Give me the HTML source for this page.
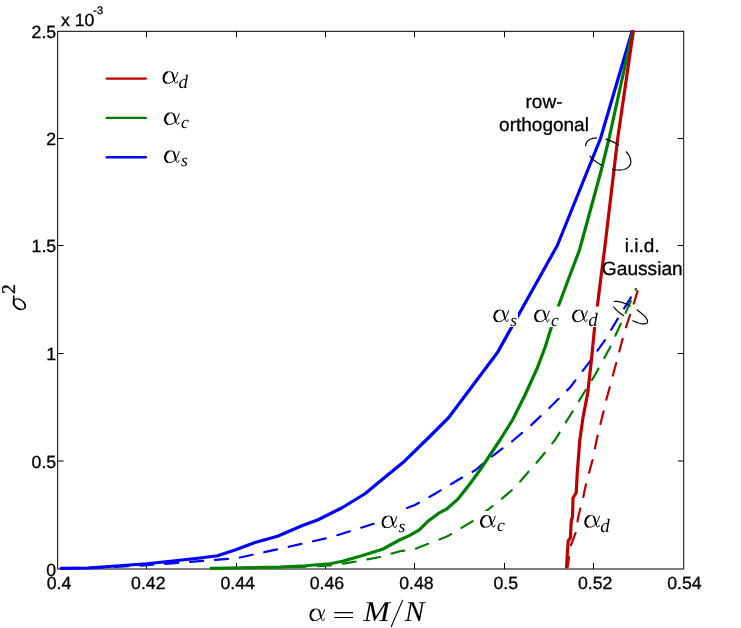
<!DOCTYPE html><html><head><meta charset="utf-8"><style>
html,body{margin:0;padding:0;background:#fff}svg{display:block;will-change:transform}text{text-rendering:geometricPrecision}
.t{font-family:"Liberation Sans",sans-serif;fill:#000;stroke:#000;stroke-width:.3px}
.m{font-family:"Liberation Serif",serif;font-style:italic;fill:#000}
.r{font-family:"Liberation Serif",serif;fill:#000}
</style></head><body>
<svg width="741" height="628" viewBox="0 0 741 628">
<rect width="741" height="628" fill="#fff"/>
<rect x="57.65" y="31.3" width="626.0500000000001" height="537.7" fill="none" stroke="#000" stroke-width="1"/>
<path d="M146.5,569.0 v-6 M146.5,31.3 v6" stroke="#000" stroke-width="1"/>
<path d="M236.5,569.0 v-6 M236.5,31.3 v6" stroke="#000" stroke-width="1"/>
<path d="M325.5,569.0 v-6 M325.5,31.3 v6" stroke="#000" stroke-width="1"/>
<path d="M414.5,569.0 v-6 M414.5,31.3 v6" stroke="#000" stroke-width="1"/>
<path d="M504.5,569.0 v-6 M504.5,31.3 v6" stroke="#000" stroke-width="1"/>
<path d="M593.5,569.0 v-6 M593.5,31.3 v6" stroke="#000" stroke-width="1"/>
<path d="M57.65,461.0 h6 M683.7,461.0 h-6" stroke="#000" stroke-width="1"/>
<path d="M57.65,353.5 h6 M683.7,353.5 h-6" stroke="#000" stroke-width="1"/>
<path d="M57.65,245.5 h6 M683.7,245.5 h-6" stroke="#000" stroke-width="1"/>
<path d="M57.65,138.5 h6 M683.7,138.5 h-6" stroke="#000" stroke-width="1"/>
<defs><clipPath id="c"><rect x="57.15" y="30.1" width="627.0500000000001" height="540.1"/></clipPath></defs>
<g clip-path="url(#c)" fill="none" stroke-linejoin="round">
<path d="M631.50,296.50 L620.00,315.00 L605.00,340.00 L590.00,361.25 L570.00,387.50 L550.00,407.30 L530.00,426.20 L512.50,441.00 L487.50,459.75 L475.00,470.50 L460.00,478.75 L435.00,493.75 L415.00,505.00 L405.00,508.75 L373.75,523.75 L330.00,537.50 L280.00,548.75 L237.50,558.00 L230.00,558.75 L180.00,562.70 L140.00,565.75 L100.00,567.50 L58.00,568.30" stroke="#0000ff" stroke-width="2.2" stroke-linecap="round" stroke-dasharray="13 12" stroke-dashoffset="-1"/>
<path d="M636.00,289.00 L622.50,320.00 L610.00,347.50 L595.00,375.00 L578.75,401.25 L565.00,423.75 L555.00,440.00 L540.00,458.75 L530.00,470.00 L515.00,487.50 L497.50,502.50 L472.50,521.25 L447.50,536.25 L415.00,549.00 L400.00,551.25 L380.00,557.00 L355.00,561.75 L330.00,565.50 L300.00,567.00 L210.00,568.30" stroke="#008000" stroke-width="2.2" stroke-linecap="round" stroke-dasharray="13 12" stroke-dashoffset="12"/>
<path d="M637.80,290.50 L632.50,307.50 L625.00,330.00 L615.00,367.50 L606.25,400.00 L596.60,440.00 L592.70,459.40 L589.00,473.00 L586.00,484.00 L583.30,497.00 L580.50,507.70 L578.00,518.00 L576.20,531.40 L571.00,545.00 L567.60,567.00" stroke="#c00000" stroke-width="2.2" stroke-linecap="round" stroke-dasharray="13 12" stroke-dashoffset="-0.7"/>
<path d="M61.00,568.30 L87.50,568.00 L112.50,566.25 L146.75,563.75 L175.00,560.75 L200.00,558.00 L217.50,555.75 L235.00,550.00 L255.00,542.50 L277.50,536.25 L302.50,525.50 L317.50,520.00 L342.50,507.50 L365.00,493.75 L380.00,481.25 L404.50,461.20 L430.00,436.25 L448.75,417.50 L467.50,392.50 L497.50,352.50 L557.30,245.50 L600.50,138.50 L632.30,30.50" stroke="#0000ff" stroke-width="3.2" stroke-linecap="round"/>
<path d="M210.00,568.30 L230.00,568.00 L280.00,567.00 L305.00,565.75 L330.00,563.75 L342.50,561.25 L360.00,556.25 L382.50,549.25 L399.50,540.00 L409.30,535.60 L419.00,530.20 L427.60,521.60 L438.40,513.40 L447.00,508.80 L452.50,503.90 L458.00,499.00 L470.00,483.75 L480.00,470.00 L487.50,458.75 L500.00,440.00 L512.50,420.00 L525.00,395.00 L537.50,367.50 L545.00,347.50 L551.25,327.50 L558.75,305.00 L570.00,275.00 L579.50,250.00 L601.30,170.00 L609.00,138.50 L632.80,30.50" stroke="#008000" stroke-width="3.2"/>
<path d="M566.50,568.30 L567.20,556.00 L568.20,541.00 L570.40,537.80 L571.20,521.70 L572.50,516.30 L573.00,498.00 L576.20,492.70 L577.30,472.30 L579.80,440.00 L583.00,417.50 L587.80,392.60 L591.60,358.20 L594.60,327.50 L597.50,305.00 L601.25,275.00 L604.50,250.00 L617.70,138.50 L633.40,30.50" stroke="#c00000" stroke-width="3.2"/>
</g>
<text class="t" x="59.0" y="589" font-size="17.7" text-anchor="middle">0.4</text>
<text class="t" x="148.3" y="589" font-size="17.7" text-anchor="middle">0.42</text>
<text class="t" x="237.7" y="589" font-size="17.7" text-anchor="middle">0.44</text>
<text class="t" x="327.0" y="589" font-size="17.7" text-anchor="middle">0.46</text>
<text class="t" x="416.4" y="589" font-size="17.7" text-anchor="middle">0.48</text>
<text class="t" x="505.8" y="589" font-size="17.7" text-anchor="middle">0.5</text>
<text class="t" x="595.1" y="589" font-size="17.7" text-anchor="middle">0.52</text>
<text class="t" x="684.4" y="589" font-size="17.7" text-anchor="middle">0.54</text>
<text class="t" x="56.2" y="575.8" font-size="17.7" text-anchor="end">0</text>
<text class="t" x="56.2" y="467.8" font-size="17.7" text-anchor="end">0.5</text>
<text class="t" x="56.2" y="360.3" font-size="17.7" text-anchor="end">1</text>
<text class="t" x="56.2" y="252.3" font-size="17.7" text-anchor="end">1.5</text>
<text class="t" x="56.2" y="145.3" font-size="17.7" text-anchor="end">2</text>
<text class="t" x="56.2" y="38.1" font-size="17.7" text-anchor="end">2.5</text>
<text class="t" x="61" y="25.5" font-size="17.7">x 10</text>
<text class="t" x="93.3" y="14.3" font-size="11">-3</text>
<path d="M106.8,78.6 H145.8" stroke="#c00000" stroke-width="2.4" stroke-linecap="round"/>
<path d="M106.8,117.9 H145.8" stroke="#008000" stroke-width="2.4" stroke-linecap="round"/>
<path d="M106.8,157.3 H145.8" stroke="#0000ff" stroke-width="2.4" stroke-linecap="round"/>
<g transform="translate(162.5,83.89999999999999) scale(0.98)" fill="none" stroke="#000" stroke-linecap="round"><path d="M15.5,-11.8 C14.5,-8 11.5,-0.6 5.5,-0.6 C2.5,-0.6 0.9,-2.8 0.9,-5.6 C0.9,-9.5 3.8,-12.5 7.3,-12.5 C10.5,-12.5 11.2,-8.5 12,-4 C12.4,-1.8 13,-0.7 13.8,-0.7 C14.6,-0.7 15.1,-1.6 15.3,-2.6" stroke-width="1.0"/><path d="M3.4,-1.3 C1.7,-2.2 1.1,-3.8 1.1,-5.6 C1.1,-8 2.3,-10.5 4.4,-11.8" stroke-width="2.0"/><path d="M9.8,-11.3 C10.9,-9.5 11.3,-6.5 11.9,-3.6" stroke-width="1.7"/></g><text class="m" x="178.6" y="87.69999999999999" font-size="19">d</text>
<g transform="translate(164.0,125.1) scale(0.98)" fill="none" stroke="#000" stroke-linecap="round"><path d="M15.5,-11.8 C14.5,-8 11.5,-0.6 5.5,-0.6 C2.5,-0.6 0.9,-2.8 0.9,-5.6 C0.9,-9.5 3.8,-12.5 7.3,-12.5 C10.5,-12.5 11.2,-8.5 12,-4 C12.4,-1.8 13,-0.7 13.8,-0.7 C14.6,-0.7 15.1,-1.6 15.3,-2.6" stroke-width="1.0"/><path d="M3.4,-1.3 C1.7,-2.2 1.1,-3.8 1.1,-5.6 C1.1,-8 2.3,-10.5 4.4,-11.8" stroke-width="2.0"/><path d="M9.8,-11.3 C10.9,-9.5 11.3,-6.5 11.9,-3.6" stroke-width="1.7"/></g><text class="m" x="181.0" y="128.4" font-size="17.6">c</text>
<g transform="translate(164.0,163.10000000000002) scale(0.98)" fill="none" stroke="#000" stroke-linecap="round"><path d="M15.5,-11.8 C14.5,-8 11.5,-0.6 5.5,-0.6 C2.5,-0.6 0.9,-2.8 0.9,-5.6 C0.9,-9.5 3.8,-12.5 7.3,-12.5 C10.5,-12.5 11.2,-8.5 12,-4 C12.4,-1.8 13,-0.7 13.8,-0.7 C14.6,-0.7 15.1,-1.6 15.3,-2.6" stroke-width="1.0"/><path d="M3.4,-1.3 C1.7,-2.2 1.1,-3.8 1.1,-5.6 C1.1,-8 2.3,-10.5 4.4,-11.8" stroke-width="2.0"/><path d="M9.8,-11.3 C10.9,-9.5 11.3,-6.5 11.9,-3.6" stroke-width="1.7"/></g><text class="m" x="181.0" y="166.4" font-size="17.6">s</text>
<rect x="491" y="306.5" width="27" height="20.5" fill="#fff"/><g transform="translate(493.3,322.3) scale(0.98)" fill="none" stroke="#000" stroke-linecap="round"><path d="M15.5,-11.8 C14.5,-8 11.5,-0.6 5.5,-0.6 C2.5,-0.6 0.9,-2.8 0.9,-5.6 C0.9,-9.5 3.8,-12.5 7.3,-12.5 C10.5,-12.5 11.2,-8.5 12,-4 C12.4,-1.8 13,-0.7 13.8,-0.7 C14.6,-0.7 15.1,-1.6 15.3,-2.6" stroke-width="1.0"/><path d="M3.4,-1.3 C1.7,-2.2 1.1,-3.8 1.1,-5.6 C1.1,-8 2.3,-10.5 4.4,-11.8" stroke-width="2.0"/><path d="M9.8,-11.3 C10.9,-9.5 11.3,-6.5 11.9,-3.6" stroke-width="1.7"/></g><text class="m" x="510.3" y="325.6" font-size="17.6">s</text>
<rect x="532" y="306.5" width="28" height="20.5" fill="#fff"/><g transform="translate(534.1,322.3) scale(0.98)" fill="none" stroke="#000" stroke-linecap="round"><path d="M15.5,-11.8 C14.5,-8 11.5,-0.6 5.5,-0.6 C2.5,-0.6 0.9,-2.8 0.9,-5.6 C0.9,-9.5 3.8,-12.5 7.3,-12.5 C10.5,-12.5 11.2,-8.5 12,-4 C12.4,-1.8 13,-0.7 13.8,-0.7 C14.6,-0.7 15.1,-1.6 15.3,-2.6" stroke-width="1.0"/><path d="M3.4,-1.3 C1.7,-2.2 1.1,-3.8 1.1,-5.6 C1.1,-8 2.3,-10.5 4.4,-11.8" stroke-width="2.0"/><path d="M9.8,-11.3 C10.9,-9.5 11.3,-6.5 11.9,-3.6" stroke-width="1.7"/></g><text class="m" x="551.1" y="325.6" font-size="17.6">c</text>
<rect x="570" y="306.5" width="29.5" height="20.5" fill="#fff"/><g transform="translate(572.1,322.3) scale(0.98)" fill="none" stroke="#000" stroke-linecap="round"><path d="M15.5,-11.8 C14.5,-8 11.5,-0.6 5.5,-0.6 C2.5,-0.6 0.9,-2.8 0.9,-5.6 C0.9,-9.5 3.8,-12.5 7.3,-12.5 C10.5,-12.5 11.2,-8.5 12,-4 C12.4,-1.8 13,-0.7 13.8,-0.7 C14.6,-0.7 15.1,-1.6 15.3,-2.6" stroke-width="1.0"/><path d="M3.4,-1.3 C1.7,-2.2 1.1,-3.8 1.1,-5.6 C1.1,-8 2.3,-10.5 4.4,-11.8" stroke-width="2.0"/><path d="M9.8,-11.3 C10.9,-9.5 11.3,-6.5 11.9,-3.6" stroke-width="1.7"/></g><text class="m" x="588.2" y="326.1" font-size="19">d</text>
<rect x="379" y="510.5" width="28" height="22.5" fill="#fff"/><g transform="translate(381.5,528.3) scale(0.98)" fill="none" stroke="#000" stroke-linecap="round"><path d="M15.5,-11.8 C14.5,-8 11.5,-0.6 5.5,-0.6 C2.5,-0.6 0.9,-2.8 0.9,-5.6 C0.9,-9.5 3.8,-12.5 7.3,-12.5 C10.5,-12.5 11.2,-8.5 12,-4 C12.4,-1.8 13,-0.7 13.8,-0.7 C14.6,-0.7 15.1,-1.6 15.3,-2.6" stroke-width="1.0"/><path d="M3.4,-1.3 C1.7,-2.2 1.1,-3.8 1.1,-5.6 C1.1,-8 2.3,-10.5 4.4,-11.8" stroke-width="2.0"/><path d="M9.8,-11.3 C10.9,-9.5 11.3,-6.5 11.9,-3.6" stroke-width="1.7"/></g><text class="m" x="398.5" y="531.6" font-size="17.6">s</text>
<rect x="478" y="511" width="28" height="22" fill="#fff"/><g transform="translate(480.0,527.8) scale(0.98)" fill="none" stroke="#000" stroke-linecap="round"><path d="M15.5,-11.8 C14.5,-8 11.5,-0.6 5.5,-0.6 C2.5,-0.6 0.9,-2.8 0.9,-5.6 C0.9,-9.5 3.8,-12.5 7.3,-12.5 C10.5,-12.5 11.2,-8.5 12,-4 C12.4,-1.8 13,-0.7 13.8,-0.7 C14.6,-0.7 15.1,-1.6 15.3,-2.6" stroke-width="1.0"/><path d="M3.4,-1.3 C1.7,-2.2 1.1,-3.8 1.1,-5.6 C1.1,-8 2.3,-10.5 4.4,-11.8" stroke-width="2.0"/><path d="M9.8,-11.3 C10.9,-9.5 11.3,-6.5 11.9,-3.6" stroke-width="1.7"/></g><text class="m" x="497.0" y="531.1" font-size="17.6">c</text>
<rect x="583" y="512" width="29" height="21" fill="#fff"/><g transform="translate(584.25,527.8) scale(0.98)" fill="none" stroke="#000" stroke-linecap="round"><path d="M15.5,-11.8 C14.5,-8 11.5,-0.6 5.5,-0.6 C2.5,-0.6 0.9,-2.8 0.9,-5.6 C0.9,-9.5 3.8,-12.5 7.3,-12.5 C10.5,-12.5 11.2,-8.5 12,-4 C12.4,-1.8 13,-0.7 13.8,-0.7 C14.6,-0.7 15.1,-1.6 15.3,-2.6" stroke-width="1.0"/><path d="M3.4,-1.3 C1.7,-2.2 1.1,-3.8 1.1,-5.6 C1.1,-8 2.3,-10.5 4.4,-11.8" stroke-width="2.0"/><path d="M9.8,-11.3 C10.9,-9.5 11.3,-6.5 11.9,-3.6" stroke-width="1.7"/></g><text class="m" x="600.35" y="531.6" font-size="19">d</text>
<text class="t" x="544" y="107.6" font-size="19" text-anchor="middle">row-</text>
<text class="t" x="544" y="130.5" font-size="19" text-anchor="middle">orthogonal</text>
<text class="t" x="642.3" y="251.6" font-size="19" text-anchor="middle">i.i.d.</text>
<text class="t" x="642.3" y="275.2" font-size="19.15" text-anchor="middle">Gaussian</text>
<g fill="none" stroke="#000" stroke-width="1.2">
<path d="M602.30,165.58 L601.67,165.25 L601.04,164.92 L600.42,164.57 L599.80,164.21 L599.20,163.85 L598.60,163.48 L598.01,163.09 L597.42,162.71 L596.85,162.31 L596.29,161.91 L595.73,161.50 L595.19,161.08 L594.66,160.66 L594.13,160.23 L593.63,159.80 L593.13,159.36 L592.64,158.92 L592.17,158.47 L591.72,158.02 L591.27,157.57 L590.84,157.11 L590.43,156.65 L590.03,156.19 L589.65,155.72"/>
<path d="M585.59,146.25 L585.61,145.65 L585.68,145.06 L585.79,144.48 L585.94,143.93 L586.13,143.39 L586.37,142.88 L586.65,142.38 L586.97,141.91 L587.33,141.46 L587.73,141.03 L588.17,140.63 L588.64,140.26 L589.16,139.91 L589.71,139.59 L590.29,139.29 L590.91,139.02 L591.56,138.79 L592.25,138.58 L592.96,138.40 L593.70,138.24 L594.47,138.12 L595.27,138.03 L596.09,137.97 L596.94,137.94"/>
<path d="M605.49,139.09 L606.07,139.25 L606.64,139.42 L607.22,139.59 L607.79,139.78 L608.37,139.97 L608.94,140.18 L609.52,140.39 L610.09,140.61 L610.66,140.84 L611.23,141.08 L611.80,141.32 L612.37,141.58 L612.94,141.84 L613.50,142.11 L614.05,142.39 L614.61,142.68 L615.16,142.97 L615.70,143.27 L616.24,143.58 L616.78,143.90 L617.31,144.22 L617.83,144.54 L618.35,144.88 L618.86,145.22"/>
<path d="M626.05,151.44 L627.17,152.81 L628.16,154.19 L629.00,155.56 L629.68,156.93 L630.21,158.27 L630.57,159.58 L630.77,160.85 L630.81,162.07 L630.67,163.23 L630.38,164.32 L629.91,165.34 L629.29,166.27 L628.52,167.12 L627.59,167.86 L626.52,168.51 L625.32,169.04 L623.99,169.47 L622.54,169.78 L620.99,169.98 L619.35,170.06 L617.62,170.02 L615.82,169.86 L613.97,169.59 L612.08,169.20"/>
<path d="M624.04,315.98 L623.44,315.59 L622.85,315.19 L622.27,314.79 L621.70,314.39 L621.15,313.98 L620.60,313.57 L620.07,313.16 L619.55,312.76 L619.04,312.35 L618.55,311.94 L618.07,311.53 L617.61,311.12 L617.16,310.72 L616.73,310.31 L616.32,309.91 L615.93,309.52 L615.56,309.13 L615.20,308.74 L614.87,308.36 L614.55,307.98 L614.26,307.61 L613.98,307.24 L613.73,306.89 L613.50,306.54"/>
<path d="M613.68,301.74 L614.04,301.60 L614.43,301.49 L614.87,301.41 L615.34,301.36 L615.85,301.33 L616.40,301.34 L616.99,301.37 L617.60,301.44 L618.26,301.53 L618.94,301.65 L619.65,301.80 L620.38,301.98 L621.14,302.19 L621.93,302.42 L622.73,302.68 L623.56,302.96 L624.40,303.27 L625.25,303.60 L626.12,303.96 L627.00,304.34 L627.88,304.74 L628.77,305.16 L629.67,305.60 L630.56,306.06"/>
<path d="M636.82,309.79 L638.53,310.98 L640.14,312.20 L641.64,313.42 L642.99,314.63 L644.20,315.82 L645.24,316.97 L646.09,318.06 L646.76,319.10 L647.24,320.06 L647.51,320.93 L647.58,321.70 L647.43,322.36 L647.09,322.92 L646.55,323.35 L645.81,323.65 L644.88,323.82 L643.78,323.87 L642.52,323.78 L641.11,323.56 L639.58,323.21 L637.93,322.74 L636.18,322.14 L634.37,321.44 L632.50,320.63"/>
</g>
<g transform="translate(309.4,621.2) scale(0.975)" fill="none" stroke="#000" stroke-linecap="round"><path d="M15.5,-11.8 C14.5,-8 11.5,-0.6 5.5,-0.6 C2.5,-0.6 0.9,-2.8 0.9,-5.6 C0.9,-9.5 3.8,-12.5 7.3,-12.5 C10.5,-12.5 11.2,-8.5 12,-4 C12.4,-1.8 13,-0.7 13.8,-0.7 C14.6,-0.7 15.1,-1.6 15.3,-2.6" stroke-width="1.0"/><path d="M3.4,-1.3 C1.7,-2.2 1.1,-3.8 1.1,-5.6 C1.1,-8 2.3,-10.5 4.4,-11.8" stroke-width="2.0"/><path d="M9.8,-11.3 C10.9,-9.5 11.3,-6.5 11.9,-3.6" stroke-width="1.7"/></g>
<path d="M334.3,612.6 H353 M334.3,617.4 H353" stroke="#000" stroke-width="1.05" fill="none"/>
<text class="m" transform="translate(363.4,621.3) scale(1.1,1)" x="0" y="0" font-size="28.7">M</text>
<path d="M402.6,600.2 L391.2,626.8" stroke="#000" stroke-width="1.05" fill="none" stroke-linecap="round"/>
<text class="m" transform="translate(404.7,621.3) scale(1.03,1)" x="0" y="0" font-size="28.7">N</text>
<g fill="none" stroke="#000"><ellipse cx="19.4" cy="304.2" rx="6.5" ry="4.4" transform="rotate(37 19.4 304.2)" stroke-width="1.15"/>
<path d="M20.21,309.32 L19.70,309.20 L19.19,309.04 L18.69,308.84 L18.19,308.61 L17.69,308.34 L17.21,308.04 L16.75,307.71 L16.31,307.36 L15.89,306.98 L15.50,306.58 L15.14,306.16 L14.81,305.73 L14.51,305.29 L14.25,304.83 L14.03,304.38 L13.86,303.92 L13.72,303.46 L13.63,303.01 L13.58,302.57 L13.58,302.14 L13.62,301.73 L13.70,301.33 L13.83,300.96 L14.00,300.61" stroke-width="1.8" stroke-linecap="round"/>
<path d="M23.30,301.82 L23.50,302.04 L23.69,302.27 L23.87,302.50 L24.05,302.74 L24.21,302.98 L24.36,303.23 L24.50,303.47 L24.62,303.72 L24.74,303.97 L24.84,304.21 L24.94,304.46 L25.02,304.71 L25.08,304.96 L25.14,305.20 L25.18,305.44 L25.21,305.68 L25.22,305.92 L25.23,306.15 L25.22,306.38 L25.19,306.61 L25.16,306.82 L25.11,307.04 L25.05,307.24 L24.97,307.44" stroke-width="1.5" stroke-linecap="round"/>
<path d="M13.7,296.1 V303.0" stroke-width="1.6" stroke-linecap="round"/></g>
<g transform="translate(26.0,309.8) rotate(-90)">
<text class="r" x="15.8" y="-10.7" font-size="19.5" stroke="#000" stroke-width="0.3">2</text></g>
</svg></body></html>
